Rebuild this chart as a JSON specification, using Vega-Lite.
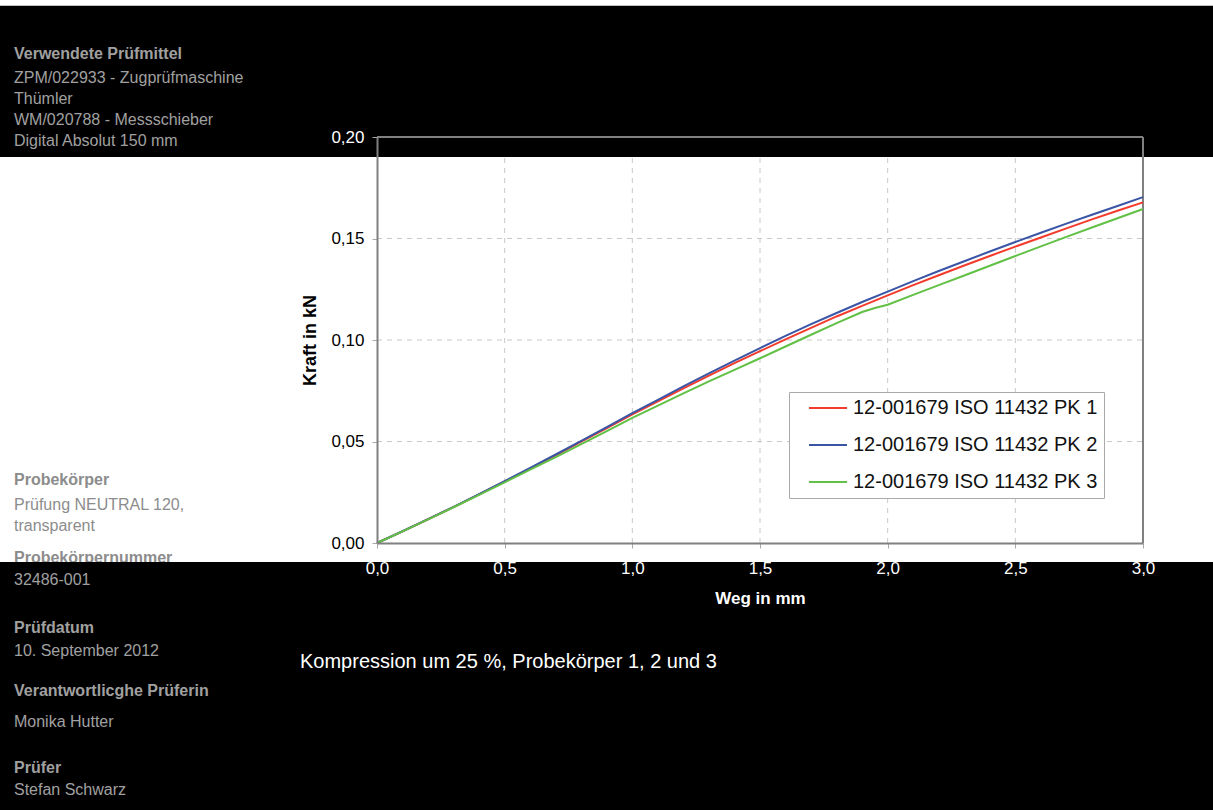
{
  "$schema": "https://vega.github.io/schema/vega-lite/v6.json",
  "width": 766,
  "height": 406,
  "autosize": {"type": "none"},
  "padding": {"left": 377, "top": 137, "right": 70, "bottom": 267},
  "background": "black",
  "config": {
    "view": {"stroke": null, "fill": null},
    "axis": {
      "grid": false,
      "domainColor": "#808080", "domainWidth": 2,
      "tickColor": "#a8a8a8", "tickSize": 5,
      "labelFont": "Liberation Sans", "labelFontSize": 17,
      "titleFont": "Liberation Sans", "titleFontWeight": "bold",
      "labelFlush": false, "labelOverlap": false
    },
    "text": {"font": "Liberation Sans"}
  },
  "layer": [
    {
      "data": {"values": [{}]},
      "mark": {"type": "rect", "color": "white"},
      "encoding": {"x": {"datum": -1.48}, "x2": {"datum": 3.28}, "y": {"datum": 0.1902}, "y2": {"datum": -0.0094}}
    },
    {
      "data": {"values": [{}]},
      "mark": {"type": "rect", "color": "white"},
      "encoding": {"x": {"datum": -1.48}, "x2": {"datum": 3.28}, "y": {"datum": 0.268}, "y2": {"datum": 0.2646}}
    },
    {
      "data": {"values": [{}]},
      "mark": {"type": "text", "align": "left", "baseline": "alphabetic", "fontSize": 16, "fontWeight": "bold", "color": "#8c8c8c"},
      "encoding": {"x": {"datum": -1.4217}, "y": {"datum": -0.00985}, "text": {"value": "Probekörpernummer"}}
    },
    {
      "data": {"values": [{}]},
      "mark": {"type": "rect", "color": "black"},
      "encoding": {"x": {"datum": -1.48}, "x2": {"datum": 3.28}, "y": {"datum": -0.0094}, "y2": {"datum": -0.14}}
    },
    {
      "data": {"values": [{"weg": 0.5}, {"weg": 1.0}, {"weg": 1.5}, {"weg": 2.0}, {"weg": 2.5}]},
      "mark": {"type": "rule", "color": "#c8c8c8", "strokeWidth": 1, "strokeDash": [5, 5], "zindex": 1},
      "encoding": {"x": {"field": "weg", "type": "quantitative"}, "y": {"datum": 0}, "y2": {"datum": 0.1902}}
    },
    {
      "data": {"values": [{"kraft": 0.05}, {"kraft": 0.1}, {"kraft": 0.15}]},
      "mark": {"type": "rule", "color": "#c8c8c8", "strokeWidth": 1, "strokeDash": [5, 5], "zindex": 1},
      "encoding": {"y": {"field": "kraft", "type": "quantitative"}, "x": {"datum": 0}, "x2": {"datum": 3}}
    },
    {
      "data": {"values": [{}]},
      "mark": {"type": "text", "align": "left", "baseline": "alphabetic", "fontSize": 16, "fontWeight": "bold", "color": "#a0a0a0"},
      "encoding": {"x": {"datum": -1.4217}, "y": {"datum": 0.2384}, "text": {"value": "Verwendete Prüfmittel"}}
    },
    {
      "data": {"values": [{}]},
      "mark": {"type": "text", "align": "left", "baseline": "alphabetic", "fontSize": 16, "lineHeight": 21, "color": "#a0a0a0"},
      "encoding": {"x": {"datum": -1.4217}, "y": {"datum": 0.2266}, "text": {"value": ["ZPM/022933 - Zugprüfmaschine", "Thümler", "WM/020788 - Messschieber", "Digital Absolut 150 mm"]}}
    },
    {
      "data": {"values": [{}]},
      "mark": {"type": "text", "align": "left", "baseline": "alphabetic", "fontSize": 16, "fontWeight": "bold", "color": "#8c8c8c"},
      "encoding": {"x": {"datum": -1.4217}, "y": {"datum": 0.0286}, "text": {"value": "Probekörper"}}
    },
    {
      "data": {"values": [{}]},
      "mark": {"type": "text", "align": "left", "baseline": "alphabetic", "fontSize": 16, "lineHeight": 21, "color": "#8c8c8c"},
      "encoding": {"x": {"datum": -1.4217}, "y": {"datum": 0.0165}, "text": {"value": ["Prüfung NEUTRAL 120,", "transparent"]}}
    },
    {
      "data": {"values": [{}]},
      "mark": {"type": "text", "align": "left", "baseline": "alphabetic", "fontSize": 16, "color": "#a0a0a0"},
      "encoding": {"x": {"datum": -1.4217}, "y": {"datum": -0.0207}, "text": {"value": "32486-001"}}
    },
    {
      "data": {"values": [{}]},
      "mark": {"type": "text", "align": "left", "baseline": "alphabetic", "fontSize": 16, "fontWeight": "bold", "color": "#a0a0a0"},
      "encoding": {"x": {"datum": -1.4217}, "y": {"datum": -0.0443}, "text": {"value": "Prüfdatum"}}
    },
    {
      "data": {"values": [{}]},
      "mark": {"type": "text", "align": "left", "baseline": "alphabetic", "fontSize": 16, "color": "#a0a0a0"},
      "encoding": {"x": {"datum": -1.4217}, "y": {"datum": -0.0557}, "text": {"value": "10. September 2012"}}
    },
    {
      "data": {"values": [{}]},
      "mark": {"type": "text", "align": "left", "baseline": "alphabetic", "fontSize": 16, "fontWeight": "bold", "color": "#a0a0a0"},
      "encoding": {"x": {"datum": -1.4217}, "y": {"datum": -0.0756}, "text": {"value": "Verantwortlicghe Prüferin"}}
    },
    {
      "data": {"values": [{}]},
      "mark": {"type": "text", "align": "left", "baseline": "alphabetic", "fontSize": 16, "color": "#a0a0a0"},
      "encoding": {"x": {"datum": -1.4217}, "y": {"datum": -0.0904}, "text": {"value": "Monika Hutter"}}
    },
    {
      "data": {"values": [{}]},
      "mark": {"type": "text", "align": "left", "baseline": "alphabetic", "fontSize": 16, "fontWeight": "bold", "color": "#a0a0a0"},
      "encoding": {"x": {"datum": -1.4217}, "y": {"datum": -0.1133}, "text": {"value": "Prüfer"}}
    },
    {
      "data": {"values": [{}]},
      "mark": {"type": "text", "align": "left", "baseline": "alphabetic", "fontSize": 16, "color": "#a0a0a0"},
      "encoding": {"x": {"datum": -1.4217}, "y": {"datum": -0.1241}, "text": {"value": "Stefan Schwarz"}}
    },
    {
      "data": {"values": [{}]},
      "mark": {"type": "text", "align": "left", "baseline": "alphabetic", "fontSize": 20, "color": "white"},
      "encoding": {"x": {"datum": -0.3016}, "y": {"datum": -0.0616}, "text": {"value": "Kompression um 25 %, Probekörper 1, 2 und 3"}}
    },
    {
      "data": {"values": [{}]},
      "mark": {"type": "rule", "color": "#808080", "strokeWidth": 2, "zindex": 1},
      "encoding": {"y": {"datum": 0.2}}
    },
    {
      "data": {"values": [{}]},
      "mark": {"type": "rule", "color": "#808080", "strokeWidth": 2, "zindex": 1},
      "encoding": {"x": {"datum": 3}}
    },
    {
      "data": {"values": [
        {"probe": "12-001679 ISO 11432 PK 1", "weg": 0.0, "kraft": 0.0},
        {"probe": "12-001679 ISO 11432 PK 1", "weg": 0.1, "kraft": 0.0057},
        {"probe": "12-001679 ISO 11432 PK 1", "weg": 0.2, "kraft": 0.0117},
        {"probe": "12-001679 ISO 11432 PK 1", "weg": 0.3, "kraft": 0.0177},
        {"probe": "12-001679 ISO 11432 PK 1", "weg": 0.4, "kraft": 0.0240},
        {"probe": "12-001679 ISO 11432 PK 1", "weg": 0.5, "kraft": 0.0303},
        {"probe": "12-001679 ISO 11432 PK 1", "weg": 0.6, "kraft": 0.0367},
        {"probe": "12-001679 ISO 11432 PK 1", "weg": 0.7, "kraft": 0.0432},
        {"probe": "12-001679 ISO 11432 PK 1", "weg": 0.8, "kraft": 0.0499},
        {"probe": "12-001679 ISO 11432 PK 1", "weg": 0.9, "kraft": 0.0566},
        {"probe": "12-001679 ISO 11432 PK 1", "weg": 1.0, "kraft": 0.0634},
        {"probe": "12-001679 ISO 11432 PK 1", "weg": 1.1, "kraft": 0.0698},
        {"probe": "12-001679 ISO 11432 PK 1", "weg": 1.2, "kraft": 0.0762},
        {"probe": "12-001679 ISO 11432 PK 1", "weg": 1.3, "kraft": 0.0825},
        {"probe": "12-001679 ISO 11432 PK 1", "weg": 1.4, "kraft": 0.0886},
        {"probe": "12-001679 ISO 11432 PK 1", "weg": 1.5, "kraft": 0.0945},
        {"probe": "12-001679 ISO 11432 PK 1", "weg": 1.6, "kraft": 0.1003},
        {"probe": "12-001679 ISO 11432 PK 1", "weg": 1.7, "kraft": 0.1060},
        {"probe": "12-001679 ISO 11432 PK 1", "weg": 1.8, "kraft": 0.1116},
        {"probe": "12-001679 ISO 11432 PK 1", "weg": 1.9, "kraft": 0.1168},
        {"probe": "12-001679 ISO 11432 PK 1", "weg": 2.0, "kraft": 0.1220},
        {"probe": "12-001679 ISO 11432 PK 1", "weg": 2.1, "kraft": 0.1270},
        {"probe": "12-001679 ISO 11432 PK 1", "weg": 2.2, "kraft": 0.1319},
        {"probe": "12-001679 ISO 11432 PK 1", "weg": 2.3, "kraft": 0.1367},
        {"probe": "12-001679 ISO 11432 PK 1", "weg": 2.4, "kraft": 0.1414},
        {"probe": "12-001679 ISO 11432 PK 1", "weg": 2.5, "kraft": 0.1460},
        {"probe": "12-001679 ISO 11432 PK 1", "weg": 2.6, "kraft": 0.1505},
        {"probe": "12-001679 ISO 11432 PK 1", "weg": 2.7, "kraft": 0.1550},
        {"probe": "12-001679 ISO 11432 PK 1", "weg": 2.8, "kraft": 0.1594},
        {"probe": "12-001679 ISO 11432 PK 1", "weg": 2.9, "kraft": 0.1637},
        {"probe": "12-001679 ISO 11432 PK 1", "weg": 3.0, "kraft": 0.1678},
        {"probe": "12-001679 ISO 11432 PK 2", "weg": 0.0, "kraft": 0.0},
        {"probe": "12-001679 ISO 11432 PK 2", "weg": 0.1, "kraft": 0.0058},
        {"probe": "12-001679 ISO 11432 PK 2", "weg": 0.2, "kraft": 0.0118},
        {"probe": "12-001679 ISO 11432 PK 2", "weg": 0.3, "kraft": 0.0178},
        {"probe": "12-001679 ISO 11432 PK 2", "weg": 0.4, "kraft": 0.0241},
        {"probe": "12-001679 ISO 11432 PK 2", "weg": 0.5, "kraft": 0.0305},
        {"probe": "12-001679 ISO 11432 PK 2", "weg": 0.6, "kraft": 0.0370},
        {"probe": "12-001679 ISO 11432 PK 2", "weg": 0.7, "kraft": 0.0436},
        {"probe": "12-001679 ISO 11432 PK 2", "weg": 0.8, "kraft": 0.0503},
        {"probe": "12-001679 ISO 11432 PK 2", "weg": 0.9, "kraft": 0.0571},
        {"probe": "12-001679 ISO 11432 PK 2", "weg": 1.0, "kraft": 0.0640},
        {"probe": "12-001679 ISO 11432 PK 2", "weg": 1.1, "kraft": 0.0705},
        {"probe": "12-001679 ISO 11432 PK 2", "weg": 1.2, "kraft": 0.0771},
        {"probe": "12-001679 ISO 11432 PK 2", "weg": 1.3, "kraft": 0.0836},
        {"probe": "12-001679 ISO 11432 PK 2", "weg": 1.4, "kraft": 0.0898},
        {"probe": "12-001679 ISO 11432 PK 2", "weg": 1.5, "kraft": 0.0960},
        {"probe": "12-001679 ISO 11432 PK 2", "weg": 1.6, "kraft": 0.1020},
        {"probe": "12-001679 ISO 11432 PK 2", "weg": 1.7, "kraft": 0.1078},
        {"probe": "12-001679 ISO 11432 PK 2", "weg": 1.8, "kraft": 0.1133},
        {"probe": "12-001679 ISO 11432 PK 2", "weg": 1.9, "kraft": 0.1187},
        {"probe": "12-001679 ISO 11432 PK 2", "weg": 2.0, "kraft": 0.1238},
        {"probe": "12-001679 ISO 11432 PK 2", "weg": 2.1, "kraft": 0.1290},
        {"probe": "12-001679 ISO 11432 PK 2", "weg": 2.2, "kraft": 0.1340},
        {"probe": "12-001679 ISO 11432 PK 2", "weg": 2.3, "kraft": 0.1388},
        {"probe": "12-001679 ISO 11432 PK 2", "weg": 2.4, "kraft": 0.1436},
        {"probe": "12-001679 ISO 11432 PK 2", "weg": 2.5, "kraft": 0.1483},
        {"probe": "12-001679 ISO 11432 PK 2", "weg": 2.6, "kraft": 0.1528},
        {"probe": "12-001679 ISO 11432 PK 2", "weg": 2.7, "kraft": 0.1573},
        {"probe": "12-001679 ISO 11432 PK 2", "weg": 2.8, "kraft": 0.1617},
        {"probe": "12-001679 ISO 11432 PK 2", "weg": 2.9, "kraft": 0.1660},
        {"probe": "12-001679 ISO 11432 PK 2", "weg": 3.0, "kraft": 0.1704},
        {"probe": "12-001679 ISO 11432 PK 3", "weg": 0.0, "kraft": 0.0},
        {"probe": "12-001679 ISO 11432 PK 3", "weg": 0.1, "kraft": 0.0057},
        {"probe": "12-001679 ISO 11432 PK 3", "weg": 0.2, "kraft": 0.0116},
        {"probe": "12-001679 ISO 11432 PK 3", "weg": 0.3, "kraft": 0.0176},
        {"probe": "12-001679 ISO 11432 PK 3", "weg": 0.4, "kraft": 0.0237},
        {"probe": "12-001679 ISO 11432 PK 3", "weg": 0.5, "kraft": 0.0299},
        {"probe": "12-001679 ISO 11432 PK 3", "weg": 0.6, "kraft": 0.0361},
        {"probe": "12-001679 ISO 11432 PK 3", "weg": 0.7, "kraft": 0.0423},
        {"probe": "12-001679 ISO 11432 PK 3", "weg": 0.8, "kraft": 0.0487},
        {"probe": "12-001679 ISO 11432 PK 3", "weg": 0.9, "kraft": 0.0551},
        {"probe": "12-001679 ISO 11432 PK 3", "weg": 1.0, "kraft": 0.0616},
        {"probe": "12-001679 ISO 11432 PK 3", "weg": 1.1, "kraft": 0.0677},
        {"probe": "12-001679 ISO 11432 PK 3", "weg": 1.2, "kraft": 0.0737},
        {"probe": "12-001679 ISO 11432 PK 3", "weg": 1.3, "kraft": 0.0796},
        {"probe": "12-001679 ISO 11432 PK 3", "weg": 1.4, "kraft": 0.0853},
        {"probe": "12-001679 ISO 11432 PK 3", "weg": 1.5, "kraft": 0.0910},
        {"probe": "12-001679 ISO 11432 PK 3", "weg": 1.6, "kraft": 0.0968},
        {"probe": "12-001679 ISO 11432 PK 3", "weg": 1.7, "kraft": 0.1026},
        {"probe": "12-001679 ISO 11432 PK 3", "weg": 1.8, "kraft": 0.1083},
        {"probe": "12-001679 ISO 11432 PK 3", "weg": 1.9, "kraft": 0.1138},
        {"probe": "12-001679 ISO 11432 PK 3", "weg": 1.95, "kraft": 0.1158},
        {"probe": "12-001679 ISO 11432 PK 3", "weg": 2.0, "kraft": 0.1174},
        {"probe": "12-001679 ISO 11432 PK 3", "weg": 2.1, "kraft": 0.1222},
        {"probe": "12-001679 ISO 11432 PK 3", "weg": 2.2, "kraft": 0.1270},
        {"probe": "12-001679 ISO 11432 PK 3", "weg": 2.3, "kraft": 0.1318},
        {"probe": "12-001679 ISO 11432 PK 3", "weg": 2.4, "kraft": 0.1366},
        {"probe": "12-001679 ISO 11432 PK 3", "weg": 2.5, "kraft": 0.1414},
        {"probe": "12-001679 ISO 11432 PK 3", "weg": 2.6, "kraft": 0.1461},
        {"probe": "12-001679 ISO 11432 PK 3", "weg": 2.7, "kraft": 0.1508},
        {"probe": "12-001679 ISO 11432 PK 3", "weg": 2.8, "kraft": 0.1554},
        {"probe": "12-001679 ISO 11432 PK 3", "weg": 2.9, "kraft": 0.1600},
        {"probe": "12-001679 ISO 11432 PK 3", "weg": 3.0, "kraft": 0.1645}
      ]},
      "mark": {"type": "line", "strokeWidth": 2, "zindex": 2},
      "encoding": {
        "x": {
          "field": "weg", "type": "quantitative",
          "scale": {"domain": [0, 3], "nice": false, "zero": false},
          "axis": {
            "zindex": 1,
            "values": [0, 0.5, 1, 1.5, 2, 2.5, 3],
            "labelExpr": "replace(format(datum.value, '.1f'), '.', ',')",
            "title": "Weg in mm", "titleColor": "white", "titleFontSize": 17,
            "labelColor": "white", "labelPadding": 12, "titlePadding": 14
          }
        },
        "y": {
          "field": "kraft", "type": "quantitative",
          "scale": {"domain": [0, 0.2], "nice": false, "zero": false},
          "axis": {
            "zindex": 1,
            "values": [0, 0.05, 0.1, 0.15, 0.2],
            "labelExpr": "replace(format(datum.value, '.2f'), '.', ',')",
            "title": "Kraft in kN", "titleColor": "black", "titleFontSize": 18,
            "labelColor": {"condition": {"test": "datum.value > 0.19", "value": "white"}, "value": "black"},
            "labelPadding": 8, "titlePadding": 11
          }
        },
        "color": {
          "field": "probe", "type": "nominal",
          "scale": {
            "domain": ["12-001679 ISO 11432 PK 1", "12-001679 ISO 11432 PK 2", "12-001679 ISO 11432 PK 3"],
            "range": ["#f23b2c", "#3a55a6", "#62c046"]
          },
          "legend": {
            "title": null, "orient": "none", "legendX": 412, "legendY": 255,
            "symbolType": "M-3.8,0H3.8", "symbolSize": 100, "symbolStrokeWidth": 2,
            "labelFont": "Liberation Sans", "labelFontSize": 20, "labelColor": "#111111", "labelLimit": 400,
            "fillColor": "white", "strokeColor": "#aaaaaa", "padding": 6,
            "rowPadding": 17, "symbolOffset": 23, "labelOffset": 15, "zindex": 3
          }
        }
      }
    }
  ]
}
